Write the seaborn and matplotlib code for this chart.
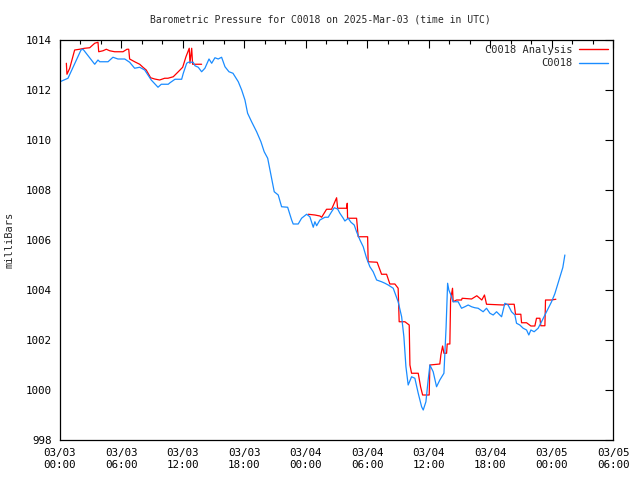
import numpy as np
import pandas as pd
import matplotlib
matplotlib.use("Agg")
import matplotlib.pyplot as plt
import seaborn as sns
from matplotlib.lines import Line2D
from matplotlib.ticker import MultipleLocator

# ---- data (hours since 2025-03-03 00:00 UTC, pressure in mbar) ----
obs_hours = [0.0, 0.78, 2.05, 2.25, 3.39, 3.71, 3.88, 4.69, 5.17, 5.66, 6.32, 6.80, 7.29, 7.78,
             8.27, 8.91, 9.57, 9.89, 10.57, 10.74, 11.23, 11.88, 12.04, 12.37, 12.52, 13.01,
             13.18, 13.50, 13.83, 14.15, 14.55, 14.81, 15.13, 15.45, 15.78, 16.11, 16.50,
             16.89, 17.41, 17.74, 18.06, 18.32, 18.71, 19.20, 19.62, 19.94, 20.28, 20.60,
             20.92, 21.31, 21.64, 22.23, 22.62, 22.77, 23.26, 23.59, 24.08, 24.40, 24.73,
             24.89, 25.06, 25.38, 25.87, 26.19, 26.52, 26.78, 27.11, 27.33, 27.66, 27.82,
             28.14, 28.41, 28.73, 28.96, 29.29, 29.61, 29.94, 30.26, 30.58, 30.92, 31.40,
             31.73, 32.05, 32.54, 33.02, 33.36, 33.58, 33.78, 34.00, 34.33, 34.65, 34.98,
             35.31, 35.47, 35.73, 35.95, 36.12, 36.44, 36.77, 37.09, 37.49, 37.70, 37.85,
             37.97, 38.17, 38.39, 38.88, 39.21, 39.53, 39.86, 40.19, 40.51, 40.83, 41.32,
             41.65, 41.98, 42.30, 42.63, 43.12, 43.44, 43.76, 44.09, 44.42, 44.58, 44.90,
             45.23, 45.56, 45.78, 45.98, 46.30, 46.69, 47.02, 47.35, 47.67, 48.00, 48.32,
             48.80, 49.10, 49.30]
obs_mbar = [1012.33, 1012.47, 1013.60, 1013.63, 1013.03, 1013.20, 1013.13, 1013.13, 1013.31,
            1013.24, 1013.24, 1013.11, 1012.87, 1012.91, 1012.80, 1012.40, 1012.11, 1012.23,
            1012.23, 1012.29, 1012.43, 1012.43, 1012.67, 1013.07, 1013.11, 1013.11, 1012.97,
            1012.91, 1012.73, 1012.87, 1013.24, 1013.07, 1013.29, 1013.24, 1013.31, 1012.93,
            1012.73, 1012.67, 1012.33, 1012.00, 1011.60, 1011.07, 1010.73, 1010.33, 1009.93,
            1009.53, 1009.27, 1008.60, 1007.93, 1007.80, 1007.33, 1007.31, 1006.80, 1006.64,
            1006.64, 1006.87, 1007.03, 1006.93, 1006.51, 1006.73, 1006.57, 1006.80, 1006.91,
            1006.91, 1007.13, 1007.29, 1007.24, 1007.07, 1006.87, 1006.76, 1006.87, 1006.71,
            1006.60, 1006.33, 1006.00, 1005.73, 1005.27, 1004.93, 1004.73, 1004.40, 1004.33,
            1004.27, 1004.20, 1004.07, 1003.53, 1002.93, 1002.13, 1000.93, 1000.20, 1000.53,
            1000.47, 999.87, 999.33, 999.20, 999.53, 1000.40, 1001.00, 1000.73, 1000.13,
            1000.40, 1000.67, 1002.50, 1004.27, 1004.00, 1003.80, 1003.53, 1003.53, 1003.27,
            1003.33, 1003.40, 1003.33, 1003.29, 1003.27, 1003.13, 1003.27, 1003.07, 1003.00,
            1003.13, 1002.93, 1003.47, 1003.40, 1003.13, 1003.00, 1002.67, 1002.60, 1002.47,
            1002.40, 1002.20, 1002.40, 1002.33, 1002.47, 1002.73, 1003.00, 1003.27, 1003.53,
            1003.85, 1004.50, 1004.90, 1005.40]

ana1_hours = [0.62, 0.68, 0.95, 1.43, 1.92, 2.41, 2.90, 3.39, 3.71, 3.78, 4.20, 4.52, 4.85,
              5.34, 6.15, 6.54, 6.71, 6.80, 7.29, 7.78, 8.10, 8.42, 8.85, 9.24, 9.73, 10.22,
              10.54, 11.06, 11.55, 11.98, 12.30, 12.62, 12.69, 12.86, 12.95, 13.83]
ana1_mbar = [1013.07, 1012.63, 1012.87, 1013.60, 1013.63, 1013.67, 1013.69, 1013.87, 1013.91,
             1013.53, 1013.57, 1013.63, 1013.57, 1013.53, 1013.53, 1013.63, 1013.63, 1013.24,
             1013.13, 1013.03, 1012.91, 1012.80, 1012.49, 1012.44, 1012.40, 1012.47, 1012.47,
             1012.53, 1012.73, 1012.91, 1013.33, 1013.67, 1013.07, 1013.67, 1013.03, 1013.03]

ana2_hours = [24.24, 24.89, 25.38, 25.55, 26.03, 26.52, 26.84, 27.01, 27.11, 27.99, 28.05,
              28.08, 28.96, 29.12, 30.04, 30.09, 30.97, 31.40, 31.89, 32.21, 32.70, 33.02,
              33.12, 33.68, 34.10, 34.17, 34.33, 34.98, 35.21, 35.41, 36.05, 36.12, 37.09,
              37.19, 37.36, 37.49, 37.75, 37.81, 38.07, 38.14, 38.33, 38.39, 38.72, 39.21,
              39.27, 40.19, 40.70, 41.19, 41.45, 41.65, 43.27, 43.61, 44.35, 44.48, 45.00,
              45.07, 45.56, 45.98, 46.37, 46.53, 46.86, 46.95, 47.35, 47.41, 48.00, 48.42]
ana2_mbar = [1007.03, 1007.00, 1006.96, 1006.91, 1007.23, 1007.23, 1007.53, 1007.69, 1007.27,
             1007.27, 1007.47, 1006.87, 1006.87, 1006.13, 1006.13, 1005.13, 1005.11, 1004.63,
             1004.63, 1004.24, 1004.24, 1004.07, 1002.73, 1002.73, 1002.60, 1001.00, 1000.67,
             1000.67, 1000.13, 999.80, 999.80, 1001.00, 1001.04, 1001.40, 1001.76, 1001.47,
             1001.47, 1001.84, 1001.84, 1003.60, 1004.07, 1003.53, 1003.60, 1003.60, 1003.67,
             1003.64, 1003.77, 1003.60, 1003.80, 1003.43, 1003.40, 1003.43, 1003.43, 1003.03,
             1003.03, 1002.69, 1002.69, 1002.56, 1002.56, 1002.87, 1002.87, 1002.57, 1002.57,
             1003.60, 1003.60, 1003.63]

x_tick_hours = [0, 6, 12, 18, 24, 30, 36, 42, 48, 54]
x_tick_labels = ["03/03\n00:00", "03/03\n06:00", "03/03\n12:00", "03/03\n18:00",
                 "03/04\n00:00", "03/04\n06:00", "03/04\n12:00", "03/04\n18:00",
                 "03/05\n00:00", "03/05\n06:00"]
y_ticks = [998, 1000, 1002, 1004, 1006, 1008, 1010, 1012, 1014]

series_names = ["C0018 Analysis", "C0018"]
colors = {"C0018 Analysis": "#ff0000", "C0018": "#1a8cff"}

# ---- build long-form table ----
df = pd.concat([
    pd.DataFrame({"hour": ana1_hours, "mbar": ana1_mbar, "series": "C0018 Analysis", "seg": 0}),
    pd.DataFrame({"hour": ana2_hours, "mbar": ana2_mbar, "series": "C0018 Analysis", "seg": 1}),
    pd.DataFrame({"hour": obs_hours, "mbar": obs_mbar, "series": "C0018", "seg": 2}),
], ignore_index=True)

sns.set_style("white")
plt.rcParams["font.family"] = ["DejaVu Sans Mono"]

fig = plt.figure(figsize=(6.4, 4.8), dpi=100)
ax = fig.add_axes([60 / 640, 40 / 480, 553 / 640, 400 / 480])

sns.lineplot(data=df, x="hour", y="mbar", hue="series", units="seg", estimator=None,
             sort=False, palette=colors, hue_order=series_names, linewidth=0.9,
             legend=False, ax=ax)

ax.set_xlim(0, 54)
ax.set_ylim(998, 1014)
ax.set_xticks(x_tick_hours)
ax.set_xticklabels(x_tick_labels)
ax.xaxis.set_minor_locator(MultipleLocator(2))
ax.set_yticks(y_ticks)
ax.set_yticklabels([str(v) for v in y_ticks])
ax.tick_params(axis="both", which="both", direction="in", top=True, right=True,
               labelsize=7.8, colors="black", width=0.8)
ax.tick_params(axis="both", which="major", length=6, pad=6)
ax.tick_params(axis="both", which="minor", length=3)
for s in ax.spines.values():
    s.set_color("black")
    s.set_linewidth(0.9)
ax.set_xlabel("")
ax.set_ylabel("milliBars", fontsize=7.5, labelpad=8)

fig.text(0.5, 1 - 20 / 480, "Barometric Pressure for C0018 on 2025-Mar-03 (time in UTC)",
         ha="center", va="center", fontsize=7.0)

handles = [Line2D([0], [0], color=colors[n], lw=1.0) for n in series_names]
ax.legend(handles, series_names, loc="upper right", frameon=False, markerfirst=False,
          fontsize=7.5, handlelength=2.8, borderaxespad=0.0, borderpad=0.45,
          labelspacing=0.35, handletextpad=0.6)

fig.savefig("out.png", dpi=100)
